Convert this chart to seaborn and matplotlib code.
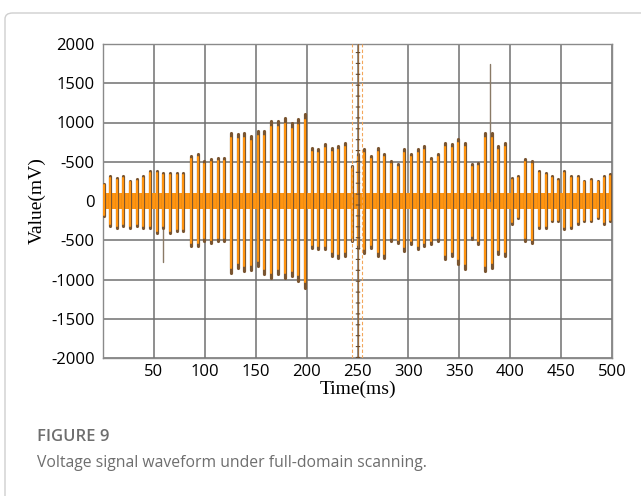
import numpy as np
import pandas as pd
import matplotlib
matplotlib.use("Agg")
import matplotlib.pyplot as plt
from matplotlib.patches import FancyBboxPatch
import seaborn as sns

# ---- data (burst peaks of the waveform) ----
burst_time = [1, 7, 14, 20, 26.5, 33, 39, 46, 53, 59, 66, 73, 79,
              86.5, 93, 99, 106, 113, 119, 126, 132.5, 138.5, 145, 152, 158, 165,
              172, 179, 186, 191.5, 198, 205, 211, 218, 225, 231, 238, 245,
              250.5, 256, 263, 270, 276, 283, 290, 296, 302.5, 309, 315, 322, 329,
              336, 343, 349, 356, 362.5, 368, 375, 382, 388, 395, 402, 408, 415,
              421, 428, 435, 441, 447, 453, 460, 467, 472.5, 479, 486, 492, 498]
burst_top = [216, 318, 293, 318, 254, 280, 318, 382, 382, 356, 356, 356, 356,
             572, 598, 509, 534, 547, 547, 865, 852, 865, 827, 890, 890, 1018,
             1018, 1056, 992, 1043, 1107, 674, 661, 725, 674, 700, 738, 445,
             598, 661, 572, 674, 598, 509, 470, 661, 598, 661, 700, 547, 598,
             738, 725, 789, 738, 470, 483, 865, 865, 700, 738, 293, 318, 534,
             509, 382, 356, 318, 280, 382, 318, 318, 254, 278, 254, 318, 343]
burst_bottom = [-190, -318, -343, -318, -343, -318, -343, -343, -407, -343, -407, -380, -380,
                -572, -572, -509, -534, -509, -509, -915, -852, -890, -877, -827, -930, -980,
                -930, -980, -955, -1018, -1107, -598, -610, -610, -700, -725, -700, -509,
                -598, -661, -598, -700, -725, -509, -534, -636, -547, -610, -572, -547, -509,
                -738, -700, -801, -865, -483, -547, -890, -852, -674, -700, -293, -216, -509,
                -534, -343, -343, -254, -254, -356, -343, -293, -254, -254, -216, -293, -254]
spike_time = [58.5, 380]
spike_value = [-780, 1745]
noise_floor = 100

x_ticks = [50, 100, 150, 200, 250, 300, 350, 400, 450, 500]
y_ticks = [2000, 1500, 1000, 500, 0, -500, -1000, -1500, -2000]
y_tick_labels = ["2000", "1500", "1000", "-500", "0", "-500", "-1000", "-1500", "-2000"]
cursor_time = 250

ORANGE = "#FF9410"
DARK = "#7A5530"

sns.set_theme(style="white")
plt.rcParams['font.family'] = ['Open Sans', 'DejaVu Sans']

fig = plt.figure(figsize=(6.41, 4.96), dpi=100)
# outer panel border
box = FancyBboxPatch((5 / 641, -0.2), 1.2, 1.2 - 13 / 496,
                     boxstyle="round,pad=0,rounding_size=0.012",
                     transform=fig.transFigure, fill=False,
                     edgecolor="#cfcfcf", linewidth=1.0)
fig.patches.append(box)

ax = fig.add_axes([103 / 641, 1 - 358 / 496, (612 - 103) / 641, (358 - 44) / 496])

# long-form table for seaborn: each burst is a vertical segment
rows = []
for i, (t, lo, hi) in enumerate(zip(burst_time, burst_bottom, burst_top)):
    rows.append((i, t, lo))
    rows.append((i, t, hi))
df = pd.DataFrame(rows, columns=["burst", "t", "v"])
df_in = df.copy()
df_in["v"] = df_in["v"] * 0.93

srows = []
for i, (t, v) in enumerate(zip(spike_time, spike_value)):
    srows.append((i, t, 0))
    srows.append((i, t, v))
sdf = pd.DataFrame(srows, columns=["spike", "t", "v"])

# noise band around zero
ax.fill_between([0, 500], -noise_floor, noise_floor, color=ORANGE, lw=0, zorder=2)
sns.lineplot(data=sdf, x="t", y="v", units="spike", estimator=None, sort=False,
             color="#8a7a66", lw=1.0, ax=ax, zorder=3)
sns.lineplot(data=df, x="t", y="v", units="burst", estimator=None, sort=False,
             color=DARK, lw=2.3, ax=ax, zorder=4)
sns.lineplot(data=df_in, x="t", y="v", units="burst", estimator=None, sort=False,
             color=ORANGE, lw=1.5, ax=ax, zorder=5)

# cursor at 250 ms
ax.axvline(cursor_time - 5, color="#F3A65A", lw=0.8, ls=(0, (3, 2)), zorder=6)
ax.axvline(cursor_time + 4, color="#F3A65A", lw=0.8, ls=(0, (3, 2)), zorder=6)
ax.axvline(cursor_time, color="#9a6a3a", lw=0.9, zorder=6)
ax.axvline(cursor_time, color="#6a4a2a", lw=3.2, ls=(0, (0.25, 2.2)), zorder=6)

ax.set_xlim(0, 500)
ax.set_ylim(-2000, 2000)
ax.set_xticks(x_ticks)
ax.set_yticks(y_ticks)
ax.set_yticklabels(y_tick_labels)
ax.grid(True, color="#707070", lw=1.1, zorder=0)
ax.set_axisbelow(True)
for s in ax.spines.values():
    s.set_color("#8a8a8a")
    s.set_linewidth(1.0)
ax.tick_params(axis="y", length=0, labelsize=12, colors="black", pad=6)
ax.tick_params(axis="x", length=0, labelsize=12, colors="black", pad=4)

ax.set_xlabel("Time(ms)", family=["Liberation Serif"], fontsize=14, labelpad=1, color="black")
ax.set_ylabel("Value(mV)", family=["Liberation Serif"], fontsize=14, labelpad=4, color="black")

fig.text(37 / 641, 1 - 437 / 496, "FIGURE 9", fontsize=12, color="#6e6e6e",
         fontweight="semibold", va="center", ha="left")
fig.text(37 / 641, 1 - 463 / 496, "Voltage signal waveform under full-domain scanning.",
         fontsize=11.3, color="#6e6e6e", va="center", ha="left")

fig.savefig("out.png", dpi=100)
